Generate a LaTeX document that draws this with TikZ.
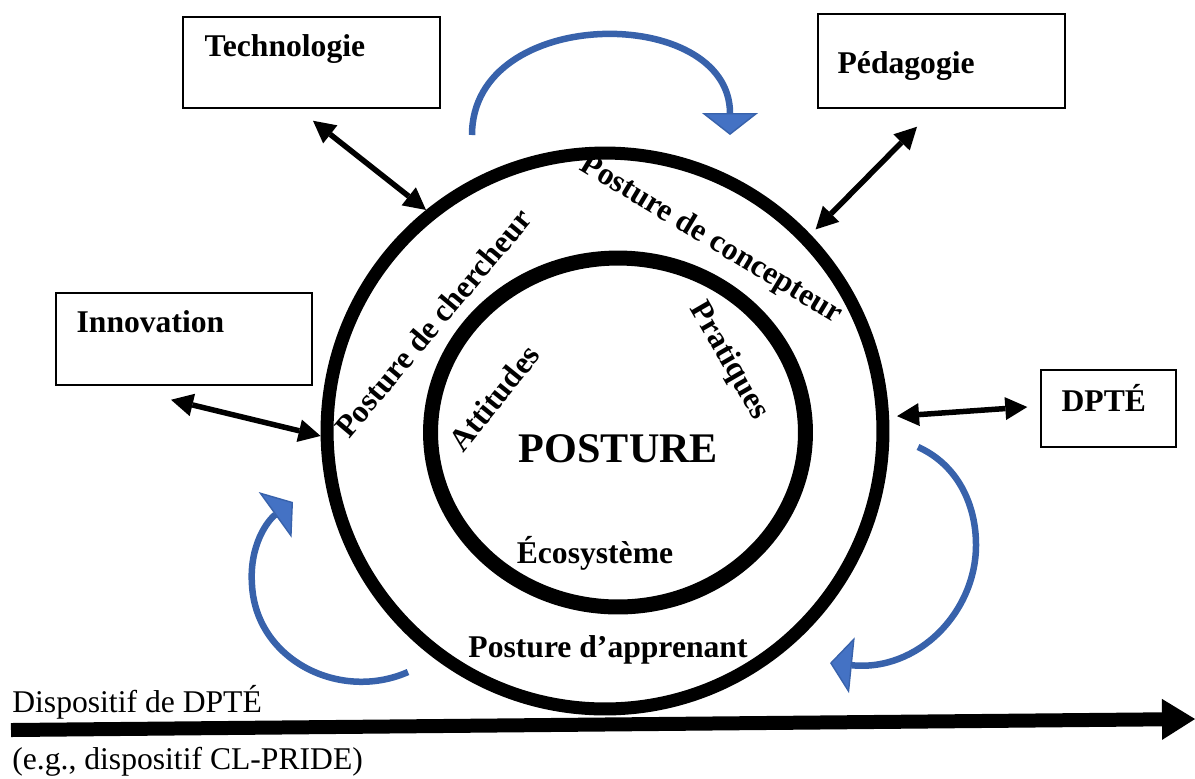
\documentclass[tikz,border=0pt]{standalone}
\usepackage{fontspec}
\setmainfont{Liberation Serif}
\usepackage{xcolor}
\usepackage{tikz}
\usetikzlibrary{positioning}
\usetikzlibrary{calc}
\usetikzlibrary{arrows.meta}
\usetikzlibrary{shapes.geometric}

\definecolor{bluefill}{HTML}{4472C4}
\definecolor{blueedge}{HTML}{2F5597}

\newcommand{\labelfont}{\fontsize{18}{21}\selectfont}

\tikzset{
  box/.style={draw=black, line width=0.03cm, inner sep=0pt},
  boxtext/.style={anchor=base west, inner sep=0pt, font=\labelfont\bfseries},
  ringtext/.style={inner sep=0pt, font=\labelfont\bfseries},
  axistext/.style={anchor=base west, inner sep=0pt, font=\labelfont},
  link/.style={line width=0.11cm,
    {Triangle[length=0.44cm, width=0.46cm, line width=0pt]}-{Triangle[length=0.44cm, width=0.46cm, line width=0pt]}},
  cycle arrow/.style={draw=blueedge!55!bluefill, line width=0.13cm,
    -{Triangle[length=0.44cm, width=1.12cm, fill=bluefill, line width=0.8pt]}},
  timeline/.style={line width=0.28cm, -{Triangle[length=0.66cm, width=0.82cm, line width=0pt]}}
}

\begin{document}
\begin{tikzpicture}[x=0.02cm, y=-0.02cm]
  \useasboundingbox (0,0) rectangle (1195,778);

  % the two rings
  \node[circle, draw, line width=0.26cm, minimum size=11.12cm, inner sep=0pt] (outer) at (605,431) {};
  \node[ellipse, draw, line width=0.30cm, minimum width=7.5cm, minimum height=6.98cm, inner sep=0pt] (inner) at (618,432.5) {};

  % boxes round the rings
  \node[box, minimum width=5.14cm, minimum height=1.82cm] (tech) at (311.5,62.5) {};
  \node[boxtext] (techtext) at ([shift={(22,40)}]tech.north west) {Technologie};
  \node[box, minimum width=4.94cm, minimum height=1.88cm] (peda) at (941.5,61) {};
  \node[boxtext] (pedatext) at ([shift={(20,60)}]peda.north west) {Pédagogie};
  \node[box, minimum width=5.12cm, minimum height=1.84cm] (innov) at (184,339) {};
  \node[boxtext] (innovtext) at ([shift={(21,40)}]innov.north west) {Innovation};
  \node[box, minimum width=2.7cm, minimum height=1.54cm] (dpte) at (1108.5,408.5) {};
  \node[boxtext] (dptetext) at ([shift={(21,42)}]dpte.north west) {DPTÉ};

  \draw[link] ([shift={(1.5,12)}]tech.south) -- (outer.129);
  \draw[link] ([shift={(-24.5,18)}]peda.south) -- ([shift={(6,-4)}]outer.44);
  \draw[link] ([shift={(-13,14)}]innov.south) -- (outer.181);
  \draw[link] ([shift={(8,0)}]outer.3) -- ([shift={(-13,-1.5)}]dpte.west);

  % blue cycle arrows
  \draw[cycle arrow] (472,135) .. controls (472,4) and (730,4) .. (730,135);
  \draw[cycle arrow] (918,447) .. controls (958,465) and (976,505) .. (976,545) .. controls (976,612) and (918,672) .. (830,663);
  \draw[cycle arrow] (408,672) .. controls (340,702) and (256,660) .. (252,585) .. controls (249,545) and (268,520) .. (293,502);

  % texts in the rings
  \node[ringtext, rotate=50] (chercheur) at (433,323) {Posture de chercheur};
  \node[ringtext, rotate=-31] (concepteur) at (711,240) {Posture de concepteur};
  \node[ringtext, rotate=-60] (pratiques) at (729,361) {Pratiques};
  \node[ringtext, rotate=51] (attitudes) at (494,398) {Attitudes};
  \node[ringtext, anchor=base, font=\fontsize{24}{28}\selectfont\bfseries] (posture) at (618.5,462) {POSTURE};
  \node[ringtext, anchor=base] (ecosys) at (595,563) {Écosystème};
  \node[ringtext, anchor=base] (apprenant) at (608,657) {Posture d’apprenant};

  % timeline
  \coordinate (tstart) at (11,730);
  \coordinate (tend) at (1195,719);
  \draw[timeline] (tstart) -- (tend);
  \node[axistext] (dispositif) at (12,712) {Dispositif de DPTÉ};
  \node[axistext] (example) at (12,769) {(e.g., dispositif CL-PRIDE)};
\end{tikzpicture}
\end{document}
